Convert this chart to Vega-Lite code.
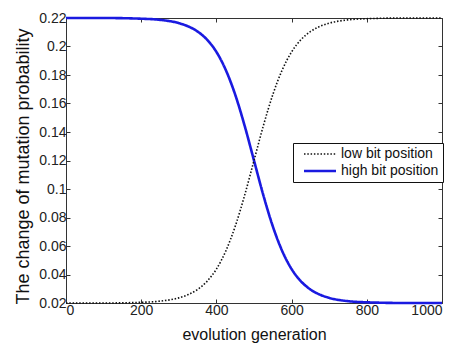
{
  "$schema": "https://vega.github.io/schema/vega-lite/v6.json",
  "width": 376,
  "height": 285,
  "autosize": {"type": "none"},
  "padding": {"left": 66, "top": 18, "right": 15, "bottom": 46},
  "background": "white",
  "config": {
    "font": "Liberation Sans",
    "view": {"stroke": "#333", "strokeWidth": 1},
    "axis": {
      "grid": false,
      "domain": false,
      "tickColor": "#333",
      "tickSize": -4,
      "labelFontSize": 14,
      "labelColor": "#222",
      "titleFontSize": 16,
      "titleFontWeight": "normal",
      "titleColor": "#111",
      "labelPadding": 4
    },
    "legend": {
      "title": null, "orient": "none", "legendX": 227, "legendY": 125,
      "strokeColor": "#111", "fillColor": "white", "padding": 4,
      "symbolType": "M0,0H16", "symbolSize": 16, "labelFontSize": 14, "labelOffset": 30,
      "rowPadding": 3, "labelColor": "#111", "cornerRadius": 0
    }
  },
  "data": {
    "values": [
      {"gen": 0, "p": 0.22, "series": "high bit position"},
      {"gen": 100, "p": 0.22, "series": "high bit position"},
      {"gen": 200, "p": 0.2195, "series": "high bit position"},
      {"gen": 250, "p": 0.2187, "series": "high bit position"},
      {"gen": 300, "p": 0.2164, "series": "high bit position"},
      {"gen": 325, "p": 0.2141, "series": "high bit position"},
      {"gen": 350, "p": 0.2105, "series": "high bit position"},
      {"gen": 375, "p": 0.2048, "series": "high bit position"},
      {"gen": 400, "p": 0.1962, "series": "high bit position"},
      {"gen": 425, "p": 0.1835, "series": "high bit position"},
      {"gen": 450, "p": 0.1662, "series": "high bit position"},
      {"gen": 475, "p": 0.1445, "series": "high bit position"},
      {"gen": 500, "p": 0.12, "series": "high bit position"},
      {"gen": 525, "p": 0.0955, "series": "high bit position"},
      {"gen": 550, "p": 0.0738, "series": "high bit position"},
      {"gen": 575, "p": 0.0565, "series": "high bit position"},
      {"gen": 600, "p": 0.0438, "series": "high bit position"},
      {"gen": 625, "p": 0.0352, "series": "high bit position"},
      {"gen": 650, "p": 0.0295, "series": "high bit position"},
      {"gen": 675, "p": 0.0259, "series": "high bit position"},
      {"gen": 700, "p": 0.0236, "series": "high bit position"},
      {"gen": 750, "p": 0.0213, "series": "high bit position"},
      {"gen": 800, "p": 0.0205, "series": "high bit position"},
      {"gen": 900, "p": 0.02, "series": "high bit position"},
      {"gen": 1000, "p": 0.02, "series": "high bit position"},
      {"gen": 0, "p": 0.02, "series": "low bit position"},
      {"gen": 100, "p": 0.02, "series": "low bit position"},
      {"gen": 200, "p": 0.0205, "series": "low bit position"},
      {"gen": 250, "p": 0.0213, "series": "low bit position"},
      {"gen": 300, "p": 0.0236, "series": "low bit position"},
      {"gen": 325, "p": 0.0259, "series": "low bit position"},
      {"gen": 350, "p": 0.0295, "series": "low bit position"},
      {"gen": 375, "p": 0.0352, "series": "low bit position"},
      {"gen": 400, "p": 0.0438, "series": "low bit position"},
      {"gen": 425, "p": 0.0565, "series": "low bit position"},
      {"gen": 450, "p": 0.0738, "series": "low bit position"},
      {"gen": 475, "p": 0.0955, "series": "low bit position"},
      {"gen": 500, "p": 0.12, "series": "low bit position"},
      {"gen": 525, "p": 0.1445, "series": "low bit position"},
      {"gen": 550, "p": 0.1662, "series": "low bit position"},
      {"gen": 575, "p": 0.1835, "series": "low bit position"},
      {"gen": 600, "p": 0.1962, "series": "low bit position"},
      {"gen": 625, "p": 0.2048, "series": "low bit position"},
      {"gen": 650, "p": 0.2105, "series": "low bit position"},
      {"gen": 675, "p": 0.2141, "series": "low bit position"},
      {"gen": 700, "p": 0.2164, "series": "low bit position"},
      {"gen": 750, "p": 0.2187, "series": "low bit position"},
      {"gen": 800, "p": 0.2195, "series": "low bit position"},
      {"gen": 900, "p": 0.22, "series": "low bit position"},
      {"gen": 1000, "p": 0.22, "series": "low bit position"}
    ]
  },
  "layer": [
    {
      "mark": {"type": "line", "interpolate": "monotone"},
      "encoding": {
        "x": {
          "field": "gen", "type": "quantitative",
          "scale": {"domain": [0, 1000], "nice": false},
          "axis": {"title": "evolution generation", "values": [0, 200, 400, 600, 800, 1000], "format": "d", "titlePadding": 9}
        },
        "y": {
          "field": "p", "type": "quantitative",
          "scale": {"domain": [0.02, 0.22], "nice": false, "zero": false},
          "axis": {"title": "The change of mutation probability", "values": [0.02, 0.04, 0.06, 0.08, 0.1, 0.12, 0.14, 0.16, 0.18, 0.2, 0.22], "format": "~g", "titlePadding": 6, "titleFontSize": 18, "titleY": 148}
        },
        "color": {
          "field": "series", "type": "nominal",
          "scale": {"domain": ["low bit position", "high bit position"], "range": ["#111111", "#1a1ae0"]}
        },
        "strokeDash": {
          "field": "series", "type": "nominal",
          "scale": {"domain": ["low bit position", "high bit position"], "range": [[1.5, 1.8], [1, 0]]}
        },
        "strokeWidth": {
          "field": "series", "type": "nominal",
          "scale": {"domain": ["low bit position", "high bit position"], "range": [1.6, 2.6]}
        }
      }
    },
    {
      "mark": {"type": "line", "opacity": 0},
      "encoding": {
        "x": {
          "field": "gen", "type": "quantitative",
          "scale": {"domain": [0, 1000], "nice": false},
          "axis": {"orient": "top", "title": null, "labels": false, "values": [0, 200, 400, 600, 800, 1000]}
        },
        "y": {
          "field": "p", "type": "quantitative",
          "scale": {"domain": [0.02, 0.22], "nice": false, "zero": false},
          "axis": {"orient": "right", "title": null, "labels": false, "values": [0.02, 0.04, 0.06, 0.08, 0.1, 0.12, 0.14, 0.16, 0.18, 0.2, 0.22]}
        },
        "detail": {"field": "series", "type": "nominal"}
      }
    }
  ],
  "resolve": {"axis": {"x": "independent", "y": "independent"}}
}
